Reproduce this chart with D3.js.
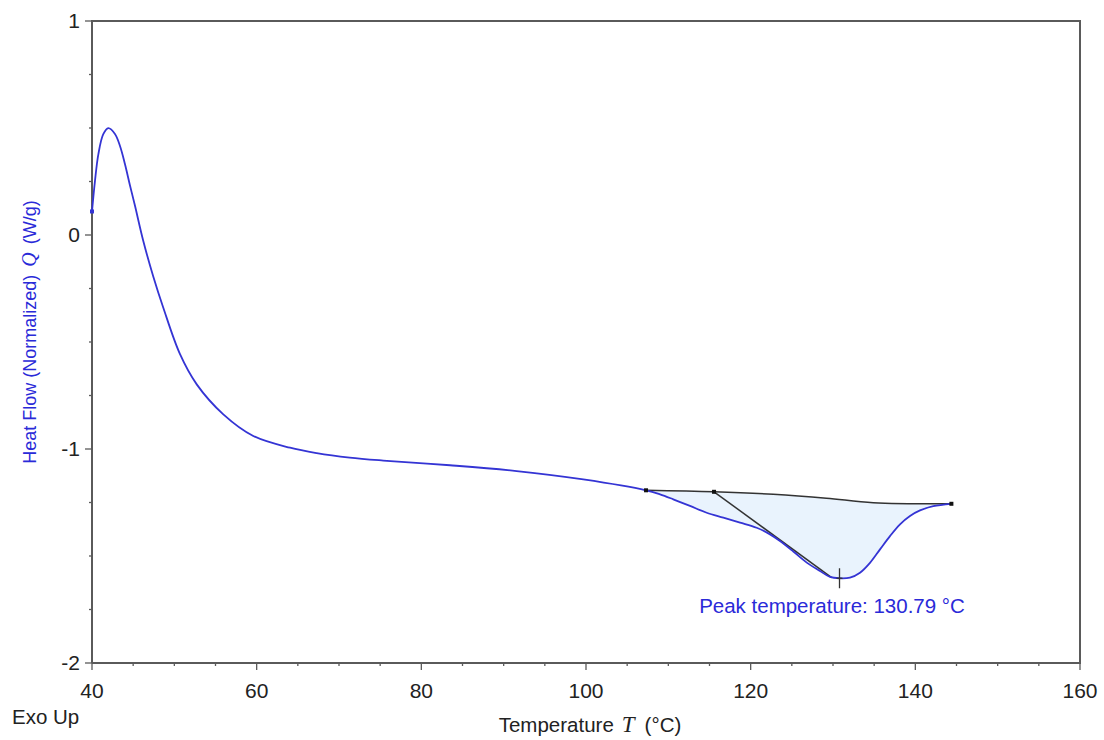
<!DOCTYPE html>
<html>
<head>
<meta charset="utf-8">
<script src="https://cdn.jsdelivr.net/npm/d3@7"></script>
<style>
  body { margin: 0; background: #fff; }
  svg { display: block; }
  text { font-family: "Liberation Sans", Arial, sans-serif; }
</style>
</head>
<body>
<svg id="chart" width="1104" height="740"></svg>
<script>
// ---- data ----
const curveT = [40.0, 40.36, 40.77, 41.37, 41.98, 42.79, 43.4, 44.0, 44.6, 45.2, 46.23, 47.45, 48.66, 50.69, 52.72, 55.95, 59.59, 64.05, 67.29, 71.3, 75.38, 83.48, 91.58, 99.67,
  107.29, 108.99, 110.60, 112.63, 114.66, 116.68, 118.71, 120.73, 122.35, 123.56, 125.18, 126.81, 128.42, 129.64, 130.79, 132.06, 133.28, 134.49, 135.71,
  136.92, 138.14, 139.35, 140.57, 142.18, 144.38];
const curveQ = [0.11, 0.252, 0.377, 0.471, 0.499, 0.472, 0.416, 0.332, 0.234, 0.14, -0.028, -0.195, -0.34, -0.557, -0.698, -0.838, -0.939, -0.994, -1.019, -1.040, -1.054, -1.076, -1.103, -1.142,
  -1.193, -1.212, -1.235, -1.266, -1.298, -1.321, -1.344, -1.368, -1.399, -1.430, -1.479, -1.531, -1.570, -1.598, -1.604, -1.601, -1.578, -1.532, -1.469,
  -1.407, -1.352, -1.313, -1.287, -1.267, -1.256];
const baseT = [107.29, 115.55, 122.75, 129.2, 134.9, 144.38];
const baseQ = [-1.193, -1.200, -1.212, -1.230, -1.251, -1.256];
const tangentT = [115.55, 129.84];
const tangentQ = [-1.200, -1.601];
const peakT = 130.79, peakQ = -1.604;
const xTicks = [40, 60, 80, 100, 120, 140, 160];
const yTicks = [-2, -1, 0, 1];
const peakLabel = "Peak temperature: 130.79 °C";

// ---- layout ----
const svg = d3.select("#chart");
const L = 92, R = 1080, T = 21, B = 663;
const x = d3.scaleLinear().domain([40, 160]).range([L, R]);
const y = d3.scaleLinear().domain([-2, 1]).range([B, T]);
const axisCol = "#5a5a5a";
const blue = "#3434d4";

const curve = curveT.map((t, i) => [t, curveQ[i]]);
const base = baseT.map((t, i) => [t, baseQ[i]]);

const line = d3.line().x(d => x(d[0])).y(d => y(d[1])).curve(d3.curveCatmullRom.alpha(0.5));

// fill region
const sub = curve.filter(d => d[0] >= baseT[0] - 1e-6 && d[0] <= baseT[baseT.length - 1] + 1e-6);
const fillPath = line(sub) + "L" + line(base.slice().reverse()).slice(1) + "Z";
svg.append("path").attr("d", fillPath).attr("fill", "#e9f3fd").attr("stroke", "none");

// frame
svg.append("path")
  .attr("d", `M${L},${B}V${T}H${R}V${B}H${L}`)
  .attr("fill", "none").attr("stroke", axisCol).attr("stroke-width", 2);

// x ticks
const xMinor = d3.range(40, 160.1, 5);
svg.append("g").selectAll("line").data(xMinor).join("line")
  .attr("x1", d => x(d)).attr("x2", d => x(d))
  .attr("y1", B).attr("y2", d => B + (d % 20 === 0 ? 7 : 3))
  .attr("stroke", axisCol).attr("stroke-width", 1.3);
svg.append("g").selectAll("text").data(xTicks).join("text")
  .attr("x", d => x(d)).attr("y", B + 35)
  .attr("text-anchor", "middle").attr("font-size", 21).attr("fill", "#222")
  .text(d => d);

// y ticks
const yMinor = d3.range(-2, 1.01, 0.25);
svg.append("g").selectAll("line").data(yMinor).join("line")
  .attr("y1", d => y(d)).attr("y2", d => y(d))
  .attr("x1", L).attr("x2", d => L - (Math.abs(d - Math.round(d)) < 1e-6 ? 7 : 3))
  .attr("stroke", axisCol).attr("stroke-width", 1.3);
svg.append("g").selectAll("text").data(yTicks).join("text")
  .attr("x", L - 12).attr("y", d => y(d) + 7)
  .attr("text-anchor", "end").attr("font-size", 21).attr("fill", "#222")
  .text(d => d);

// baseline, tangent
svg.append("path").attr("d", line(base)).attr("fill", "none")
  .attr("stroke", "#333").attr("stroke-width", 1.5);
svg.append("line")
  .attr("x1", x(tangentT[0])).attr("y1", y(tangentQ[0]))
  .attr("x2", x(tangentT[1])).attr("y2", y(tangentQ[1]))
  .attr("stroke", "#333").attr("stroke-width", 1.5);

// main curve
svg.append("path").attr("d", line(curve)).attr("fill", "none")
  .attr("stroke", blue).attr("stroke-width", 1.8);

// markers
svg.append("rect").attr("x", x(curveT[0]) - 2).attr("y", y(curveQ[0]) - 2)
  .attr("width", 4).attr("height", 4).attr("fill", blue);
const marks = [[baseT[0], baseQ[0]], [tangentT[0], tangentQ[0]], [baseT[baseT.length - 1], baseQ[baseQ.length - 1]]];
svg.append("g").selectAll("rect").data(marks).join("rect")
  .attr("x", d => x(d[0]) - 2).attr("y", d => y(d[1]) - 2)
  .attr("width", 4).attr("height", 4).attr("fill", "#111");

// peak cross
svg.append("line").attr("x1", x(peakT)).attr("x2", x(peakT))
  .attr("y1", y(peakQ) - 10).attr("y2", y(peakQ) + 10)
  .attr("stroke", "#333").attr("stroke-width", 1.3);
svg.append("line").attr("x1", x(peakT) - 3).attr("x2", x(peakT) + 3)
  .attr("y1", y(peakQ)).attr("y2", y(peakQ))
  .attr("stroke", "#333").attr("stroke-width", 1.3);

svg.append("text").attr("x", 832).attr("y", y(peakQ) + 35)
  .attr("text-anchor", "middle").attr("font-size", 20.5).attr("fill", "#2a2ad8")
  .text(peakLabel);

// axis titles
const xt = svg.append("text").attr("x", 590).attr("y", 732)
  .attr("text-anchor", "middle").attr("font-size", 20.5).attr("fill", "#222");
xt.append("tspan").text("Temperature");
xt.append("tspan").attr("dx", 8).attr("font-family", "'Liberation Serif', serif").attr("font-style", "italic").attr("font-size", 23).text("T");
xt.append("tspan").attr("dx", 10).text("(°C)");

svg.append("text").attr("x", 12).attr("y", 724)
  .attr("font-size", 20.5).attr("fill", "#222").text("Exo Up");

const yt = svg.append("text").attr("transform", "translate(36,332) rotate(-90)")
  .attr("text-anchor", "middle").attr("font-size", 18).attr("fill", "#2a2ad8");
yt.append("tspan").text("Heat Flow (Normalized)");
yt.append("tspan").attr("dx", 8).attr("font-family", "'Liberation Serif', serif").attr("font-style", "italic").attr("font-size", 20).text("Q");
yt.append("tspan").attr("dx", 8).text("(W/g)");
</script>
</body>
</html>
